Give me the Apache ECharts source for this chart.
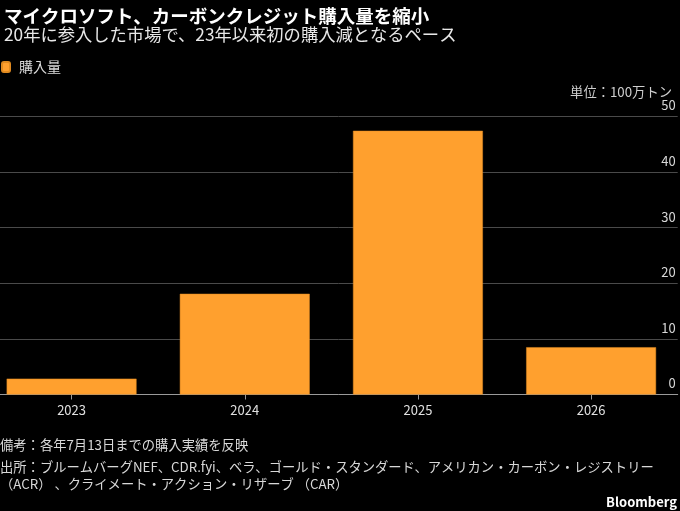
<!DOCTYPE html>
<html><head><meta charset="utf-8">
<script src="https://cdn.jsdelivr.net/npm/echarts@6/dist/echarts.min.js"></script>
<style>html,body{margin:0;padding:0;background:#000;}#c{width:680px;height:511px;}</style>
</head><body><div id="c"></div>
<script>
const categories = ['2023', '2024', '2025', '2026'];
const purchases = [2.85, 18.1, 47.4, 8.5];
const yTicks = [0, 10, 20, 30, 40, 50];
const titleText = 'マイクロソフト、カーボンクレジット購入量を縮小';
const subtitleText = '20年に参入した市場で、23年以来初の購入減となるペース';
const seriesName = '購入量';
const unitText = '単位：100万トン';
const noteText = '備考：各年7月13日までの購入実績を反映';
const sourceLines = ['出所：ブルームバーグNEF、CDR.fyi、ベラ、ゴールド・スタンダード、アメリカン・カーボン・レジストリー', '（ACR） 、クライメート・アクション・リザーブ （CAR）'];

const FONT = '"Noto Sans CJK JP", "Noto Sans", sans-serif';
const chart = echarts.init(document.getElementById('c'), null, {renderer: 'canvas'});
chart.setOption({
  backgroundColor: '#000',
  textStyle: {fontFamily: FONT},
  animation: false,
  title: [
    {text: titleText, left: -1, top: 2, textStyle: {color: '#fff', fontSize: 18.5, fontWeight: 'bold', fontFamily: FONT}},
    {text: subtitleText, left: -1, top: 21, textStyle: {color: '#e8e8e8', fontSize: 17.3, fontWeight: 'normal', fontFamily: FONT}},
    {text: unitText, right: 3, top: 80, textStyle: {color: '#cfcfcf', fontSize: 13.3, fontWeight: 'normal', fontFamily: FONT}}
  ],
  legend: {
    left: -4, top: 55, itemWidth: 8, itemHeight: 10, itemGap: 8,
    icon: 'roundRect',
    textStyle: {color: '#dcdcdc', fontSize: 14, fontFamily: FONT, padding: [0, 0, 0, 4]},
    data: [seriesName]
  },
  grid: {left: -15, right: 2.3, top: 116.3, bottom: 116.5, containLabel: false, outerBoundsMode: 'none'},
  xAxis: {
    type: 'category', data: categories,
    axisLine: {show: true, lineStyle: {color: '#9a9a9a', width: 1}},
    axisTick: {show: true, alignWithLabel: true, length: 5, lineStyle: {color: '#9a9a9a'}},
    axisLabel: {color: '#e0e0e0', fontSize: 13, margin: 9, fontFamily: FONT}
  },
  yAxis: {
    type: 'value', position: 'right', min: yTicks[0], max: yTicks[yTicks.length - 1], interval: 10,
    axisLine: {show: false}, axisTick: {show: false},
    splitLine: {show: true, lineStyle: {color: '#4a4a4a', width: 1}},
    axisLabel: {inside: true, margin: 2, color: '#d8d8d8', fontSize: 13, verticalAlign: 'bottom', lineHeight: 22, fontFamily: FONT}
  },
  series: [{
    name: seriesName, type: 'bar', data: purchases,
    barCategoryGap: '25%',
    itemStyle: {color: '#FFA02E', borderColor: '#e08a20', borderWidth: 0.5}
  }],
  graphic: [
    {type: 'text', left: 0, top: 438, style: {text: noteText, fill: '#d8d8d8', font: '13.3px ' + FONT}},
    {type: 'text', left: 0, top: 458, style: {text: sourceLines.join('\n'), fill: '#d8d8d8', font: '13.3px ' + FONT, lineHeight: 17}},
    {type: 'text', right: 3, top: 496, style: {text: 'Bloomberg', fill: '#fff', font: 'bold 13px ' + FONT}}
  ]
});
</script></body></html>
